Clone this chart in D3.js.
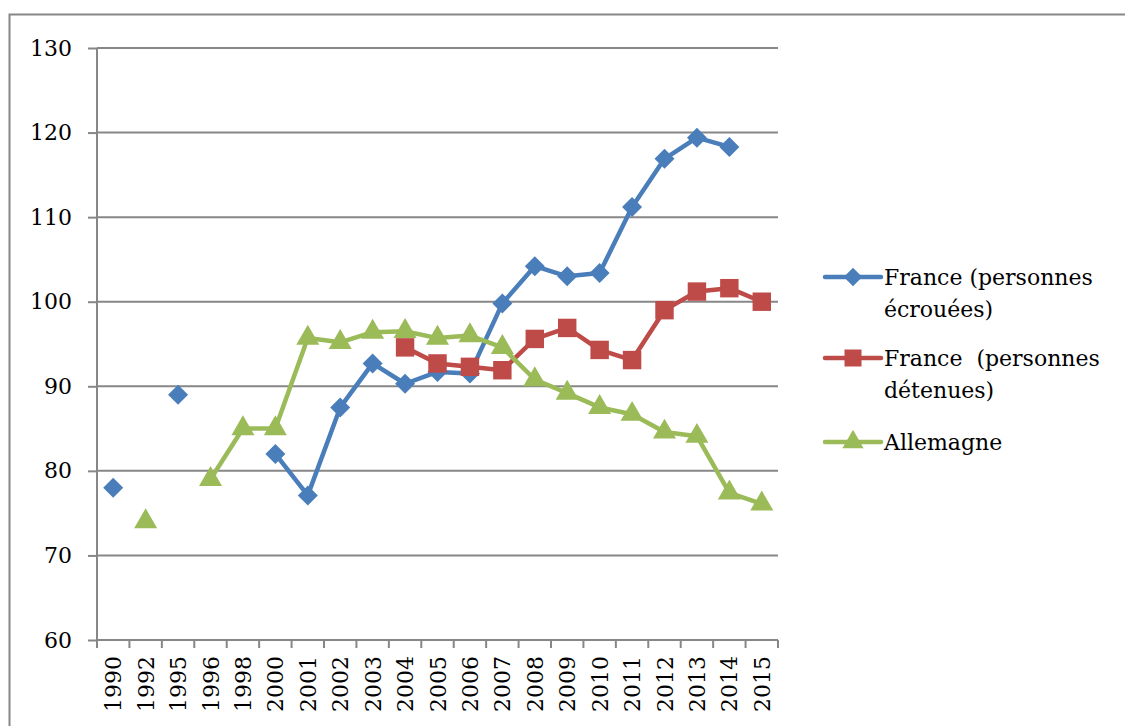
<!DOCTYPE html>
<html>
<head>
<meta charset="utf-8">
<script src="https://cdn.jsdelivr.net/npm/d3@7"></script>
<style>
  body { margin: 0; background: #fff; }
  svg text { font-family: "DejaVu Serif", serif; fill: #000; }
</style>
</head>
<body>
<div id="chart"></div>
<script>
// categories on x axis
var years = ["1990","1992","1995","1996","1998","2000","2001","2002","2003","2004","2005",
             "2006","2007","2008","2009","2010","2011","2012","2013","2014","2015"];

// series values (null = no data)
var ecrouees = [78, null, 89, null, null, 82, 77.1, 87.5, 92.7, 90.3, 91.7,
                91.5, 99.8, 104.2, 103, 103.4, 111.2, 116.9, 119.4, 118.3, null];
var detenues = [null, null, null, null, null, null, null, null, null, 94.6, 92.7,
                92.3, 91.9, 95.6, 96.9, 94.3, 93.1, 99, 101.2, 101.6, 100];
var allemagne = [null, 74, null, 79, 85, 85, 95.7, 95.2, 96.4, 96.5, 95.7,
                 96, 94.6, 90.8, 89.2, 87.5, 86.7, 84.6, 84.1, 77.4, 76.1];

var yTicks = [60, 70, 80, 90, 100, 110, 120, 130];

var series = [
    {name: ["France (personnes", "écrouées)"], values: ecrouees, color: "#4A7EBB", marker: "diamond"},
    {name: ["France  (personnes", "détenues)"], values: detenues, color: "#BE4B48", marker: "square"},
    {name: ["Allemagne"], values: allemagne, color: "#9BBB59", marker: "triangle"}
];

//marker shapes: diamond is a square turned 45 degrees
function markerPath(type, scale){
    if(type === "diamond"){
        return {d: d3.symbol().type(d3.symbolSquare).size(200 * scale)(), rot: 45};
    }
    if(type === "square"){
        return {d: d3.symbol().type(d3.symbolSquare).size(340 * scale)(), rot: 0};
    }
    return {d: d3.symbol().type(d3.symbolTriangle).size(230 * scale)(), rot: 0};
}

const width = 1125;
const height = 726;
const margin = {top: 48, left: 97, right: 347, bottom: 86};

const svg = d3.select("#chart")
    .append("svg")
    .attr("width", width)
    .attr("height", height);

//outer frame of the chart area
svg.append("rect")
    .attr("x", 9.5).attr("y", 14.5)
    .attr("width", 1200).attr("height", 800)
    .attr("fill", "none")
    .attr("stroke", "#878787")
    .attr("stroke-width", 2);

const x = d3.scaleBand()
    .domain(years)
    .range([margin.left, width - margin.right]);

const y = d3.scaleLinear()
    .domain([60, 130])
    .range([height - margin.bottom, margin.top]);

const gridColor = "#878787";

//gridlines + y labels
const yAxis = svg.append("g")
    .attr("transform", `translate(${margin.left},0)`)
    .call(d3.axisLeft(y).tickValues(yTicks).tickSize(9).tickPadding(16).tickFormat(d3.format("d")));
yAxis.select(".domain").remove();
yAxis.selectAll(".tick line").attr("stroke", gridColor).attr("stroke-width", 2);
yAxis.selectAll(".tick text").style("font-size", "22px").style("font-family", "DejaVu Serif");

svg.append("g")
    .selectAll("line")
    .data(yTicks.filter(d => d > 60))
    .join("line")
    .attr("x1", margin.left).attr("x2", width - margin.right)
    .attr("y1", d => y(d)).attr("y2", d => y(d))
    .attr("stroke", gridColor).attr("stroke-width", 2);

//vertical axis line
svg.append("line")
    .attr("x1", margin.left).attr("x2", margin.left)
    .attr("y1", y(130)).attr("y2", y(60))
    .attr("stroke", gridColor).attr("stroke-width", 2);

//x axis: ticks between categories
const xg = svg.append("g");
xg.append("line")
    .attr("x1", margin.left).attr("x2", width - margin.right)
    .attr("y1", y(60)).attr("y2", y(60))
    .attr("stroke", gridColor).attr("stroke-width", 2);
xg.selectAll(".xt")
    .data(years.concat(["end"]))
    .join("line")
    .attr("x1", (d, i) => margin.left + i * x.step())
    .attr("x2", (d, i) => margin.left + i * x.step())
    .attr("y1", y(60)).attr("y2", y(60) + 8)
    .attr("stroke", gridColor).attr("stroke-width", 2);
xg.selectAll("text")
    .data(years)
    .join("text")
    .attr("transform", d => `translate(${x(d) + x.bandwidth() / 2 + 8},${y(60) + 16}) rotate(-90)`)
    .attr("text-anchor", "end")
    .style("font-size", "22px")
    .text(d => d);

//series lines and markers
series.forEach(s => {
    const pts = s.values.map((v, i) => ({year: years[i], v: v}));
    const line = d3.line()
        .defined(d => d.v !== null)
        .x(d => x(d.year) + x.bandwidth() / 2)
        .y(d => y(d.v));
    svg.append("path")
        .datum(pts)
        .attr("d", line)
        .attr("fill", "none")
        .attr("stroke", s.color)
        .attr("stroke-width", 4.5)
        .attr("stroke-linejoin", "round");
    const m = markerPath(s.marker, 1);
    svg.append("g")
        .selectAll("path")
        .data(pts.filter(d => d.v !== null))
        .join("path")
        .attr("transform", d => `translate(${x(d.year) + x.bandwidth() / 2},${y(d.v)}) rotate(${m.rot})`)
        .attr("d", m.d)
        .attr("fill", s.color);
});

//legend
const legendY = [277, 358, 442];
series.forEach((s, i) => {
    const g = svg.append("g").attr("transform", `translate(825,${legendY[i]})`);
    g.append("line")
        .attr("x1", 0).attr("x2", 56)
        .attr("stroke", s.color).attr("stroke-width", 4.5).attr("stroke-linecap", "round");
    const m = markerPath(s.marker, 0.85);
    g.append("path")
        .attr("transform", `translate(28,0) rotate(${m.rot})`)
        .attr("d", m.d)
        .attr("fill", s.color);
    s.name.forEach((t, j) => {
        g.append("text")
            .attr("x", 59).attr("y", 8 + j * 32)
            .style("font-size", "22px")
            .style("white-space", "pre")
            .text(t);
    });
});
</script>
</body>
</html>
